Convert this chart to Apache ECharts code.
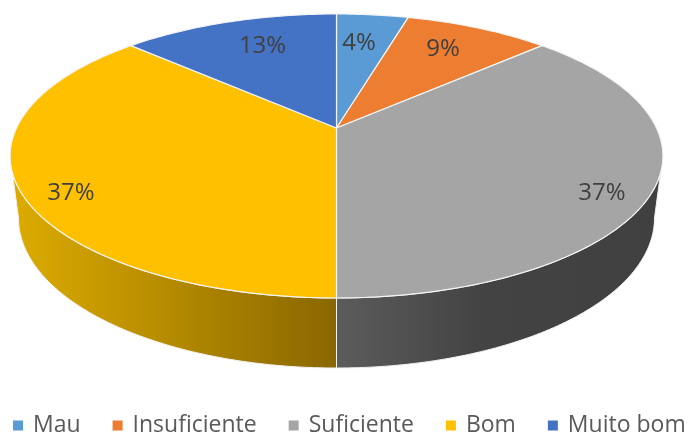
<!DOCTYPE html>
<html>
<head>
<meta charset="utf-8">
<script src="https://cdn.jsdelivr.net/npm/echarts@6/dist/echarts.min.js"></script>
<style>
  html, body { margin: 0; padding: 0; background: #fff; }
  #chart { width: 688px; height: 433px; }
</style>
</head>
<body>
<div id="chart"></div>
<script>
const categories = ["Mau", "Insuficiente", "Suficiente", "Bom", "Muito bom"];
const shares = [4.3, 8.7, 37, 37, 13];
const colors = ["#5B9BD5", "#ED7D31", "#A5A5A5", "#FFC000", "#4472C4"];

const total = shares.reduce((a, b) => a + b, 0);

// tilted disc, the top face has perspective, the lower rim is close to a plain ellipse
const topDisc = { cx: 336.5, cy: 128, a: 320, b: 136.5, k: 0.197 };
const lowDisc = { cx: 336.5, cy: 218, a: 318, b: 150, k: 0 };
const wallFrom = 108, wallTo = 252;

// wall shading, only the two front slices show a wall
const wallFill = {
  2: [[0, "#5c5c5c"], [0.45, "#434343"], [1, "#404040"]],
  3: [[0, "#dcab00"], [1, "#8a6700"]],
};
const wallBand = { 2: [336, 660], 3: [15, 336] };

// nudges for labels sitting further out than the ring
const labelShift = { 0: [-4, -2], 1: [3, -6], 2: [48, 25], 3: [-48, 25], 4: [5, -4] };

function project(disc, deg, r) {
  const t = (deg * Math.PI) / 180;
  const d = 1 + disc.k * r * Math.cos(t);
  return [
    disc.cx + (disc.a * r * Math.sin(t)) / d,
    disc.cy - (disc.b * r * Math.cos(t)) / d,
  ];
}

function arc(disc, from, to) {
  const pts = [];
  const n = Math.max(2, Math.ceil(Math.abs(to - from)));
  for (let i = 0; i <= n; i++) pts.push(project(disc, from + ((to - from) * i) / n, 1));
  return pts;
}

// the rim silhouette sits at a different angle on the lower ellipse
function lowAngle(deg) {
  return 180 + ((deg - 180) * 90) / (180 - wallFrom);
}

function renderSlice(idx) {
  return function (params, api) {
    const start = api.value(0);
    const end = api.value(1);
    const children = [];

    const wa = Math.max(start, wallFrom);
    const wb = Math.min(end, wallTo);
    if (wb > wa && wallFill[idx]) {
      const band = wallBand[idx];
      children.push({
        type: "polygon",
        shape: { points: arc(topDisc, wa, wb).concat(arc(lowDisc, lowAngle(wb), lowAngle(wa))) },
        style: {
          fill: new echarts.graphic.LinearGradient(
            band[0], 0, band[1], 0,
            wallFill[idx].map((s) => ({ offset: s[0], color: s[1] })),
            true
          ),
          stroke: "#f2f2f2",
          lineWidth: 1,
        },
      });
    }

    children.push({
      type: "polygon",
      shape: { points: [[topDisc.cx, topDisc.cy]].concat(arc(topDisc, start, end)) },
      style: { fill: colors[idx], stroke: "#f4f4f4", lineWidth: 1.2, lineJoin: "round" },
    });

    const mid = project(topDisc, (start + end) / 2, 0.7);
    const sh = labelShift[idx];
    children.push({
      type: "text",
      style: {
        x: mid[0] + sh[0],
        y: mid[1] + sh[1],
        text: Math.round(shares[idx]) + "%",
        fill: "#404040",
        font: '24px "Open Sans"',
        align: "center",
        verticalAlign: "middle",
      },
    });
    return { type: "group", children: children };
  };
}

let acc = 0;
const series = categories.map((name, idx) => {
  const start = (acc / total) * 360;
  acc += shares[idx];
  const end = (acc / total) * 360;
  return {
    name: name,
    type: "custom",
    coordinateSystem: "none",
    itemStyle: { color: colors[idx] },
    renderItem: renderSlice(idx),
    silent: true,
    data: [[start, end]],
  };
});

const chart = echarts.init(document.getElementById("chart"), null, { renderer: "canvas" });
chart.setOption({
  animation: false,
  backgroundColor: "#fff",
  legend: {
    data: categories,
    left: 13,
    top: 414,
    width: 900,
    padding: 0,
    icon: "rect",
    itemWidth: 10,
    itemHeight: 10,
    itemGap: 32,
    selectedMode: false,
    textStyle: {
      color: "#595959",
      fontFamily: "Open Sans",
      fontSize: 23,
      padding: [0, 0, 0, 5],
    },
  },
  series: series,
});
</script>
</body>
</html>
